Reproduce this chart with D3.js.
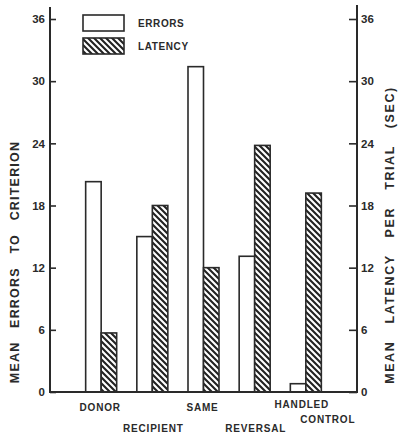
<!DOCTYPE html>
<head>
    <title>Errors and latency</title>
    <script src='https://cdn.jsdelivr.net/npm/d3@7/dist/d3.min.js'></script>
</head>
<style>
    body { margin: 0; background: #fff; }
    text { font-family: 'Liberation Sans', Arial, sans-serif; font-weight: bold; fill: #2a2a2a; }
    .bar { stroke: #2a2a2a; stroke-width: 1.6px; }
</style>
<body>
    <svg></svg>
</body>

<script>
    // values
    var groups = ['DONOR', 'RECIPIENT', 'SAME', 'REVERSAL', 'HANDLED CONTROL'];
    var errors = [20.3, 15.0, 31.4, 13.1, 0.8];
    var latency = [5.7, 18.0, 12.0, 23.8, 19.2];
    var yTicks = [0, 6, 12, 18, 24, 30, 36];
    var seriesNames = ['ERRORS', 'LATENCY'];

    var vWidth = 404;
    var vHeight = 438;
    var mLeft = 50, mRight = 357, mTop = 19, mBottom = 392;

    var svg = d3.select('svg')
        .attr('width', vWidth)
        .attr('height', vHeight);

    // hatch for latency bars
    var pat = svg.append('defs').append('pattern')
        .attr('id', 'hatch')
        .attr('patternUnits', 'userSpaceOnUse')
        .attr('width', 6).attr('height', 6);
    pat.append('rect').attr('width', 6).attr('height', 6).attr('fill', '#fff');
    pat.append('path')
        .attr('d', 'M0,0 L6,6 M-1,5 L1,7 M5,-1 L7,1')
        .attr('stroke', '#222')
        .attr('stroke-width', 2.1);

    var x = d3.scalePoint().domain(groups).range([mLeft, mRight]).padding(1);
    var sub = d3.scaleBand().domain(seriesNames).range([-15.5, 15.5]);
    var y = d3.scaleLinear().domain([0, 36]).range([mBottom, mTop]);

    var rows = groups.map(function (g, i) {
        return {group: g, values: [errors[i], latency[i]]};
    });

    // bars
    var gBars = svg.append('g');
    rows.forEach(function (r) {
        gBars.selectAll(null)
            .data(r.values)
            .enter().append('rect')
            .attr('class', 'bar')
            .attr('x', function (d, j) { return x(r.group) + sub(seriesNames[j]); })
            .attr('width', sub.bandwidth())
            .attr('y', function (d) { return y(d); })
            .attr('height', function (d) { return y(0) - y(d); })
            .attr('fill', function (d, j) { return j ? 'url(#hatch)' : '#fff'; });
    });

    // axes
    var leftAxis = d3.axisLeft(y).tickValues(yTicks).tickSizeInner(-6).tickSizeOuter(0).tickPadding(5);
    var rightAxis = d3.axisRight(y).tickValues(yTicks).tickSizeInner(-8).tickSizeOuter(0).tickPadding(4);

    var gl = svg.append('g').attr('transform', 'translate(' + mLeft + ',0)').call(leftAxis);
    var gr = svg.append('g').attr('transform', 'translate(' + mRight + ',0)').call(rightAxis);
    [gl, gr].forEach(function (g) {
        g.select('.domain').remove();
        g.selectAll('.tick line').attr('stroke', '#2a2a2a').attr('stroke-width', 1.6);
        g.selectAll('.tick text').style('font-size', '11.5px').attr('fill', '#2a2a2a');
    });

    svg.append('path')
        .attr('d', 'M' + mLeft + ',7 V' + mBottom + ' H' + mRight + ' V5')
        .attr('fill', 'none')
        .attr('stroke', '#2a2a2a')
        .attr('stroke-width', 2);

    // category labels, staggered in two rows
    rows.forEach(function (r, i) {
        var words = r.group.split(' ');
        var t = svg.append('text')
            .attr('text-anchor', 'middle')
            .style('font-size', '10px')
            .style('letter-spacing', '0.8px');
        if (words.length > 1) {
            t.append('tspan').attr('x', x(r.group) - 4).attr('y', 408).text(words[0]);
            t.append('tspan').attr('x', x(r.group) + 22).attr('y', 423).text(words[1]);
        } else {
            t.attr('x', x(r.group) + (i % 2 ? 1 : -1))
                .attr('y', i % 2 ? 432 : 411)
                .text(r.group);
        }
    });

    // axis titles
    svg.append('text')
        .attr('transform', 'translate(19,262) rotate(-90)')
        .attr('text-anchor', 'middle')
        .style('font-size', '12.5px')
        .style('letter-spacing', '1.2px')
        .style('word-spacing', '9px')
        .text('MEAN ERRORS TO CRITERION');

    svg.append('text')
        .attr('transform', 'translate(394,235) rotate(-90)')
        .attr('text-anchor', 'middle')
        .style('font-size', '12.5px')
        .style('letter-spacing', '1.6px')
        .style('word-spacing', '12px')
        .text('MEAN LATENCY PER TRIAL (SEC)');

    // legend
    var legend = svg.append('g').attr('transform', 'translate(83,15)');
    seriesNames.forEach(function (name, j) {
        legend.append('rect')
            .attr('class', 'bar')
            .attr('x', 0).attr('y', j * 23)
            .attr('width', 41).attr('height', 16)
            .attr('fill', j ? 'url(#hatch)' : '#fff');
        legend.append('text')
            .attr('x', 55).attr('y', j * 23 + 12)
            .style('font-size', '10px')
            .style('letter-spacing', '0.6px')
            .text(name);
    });
</script>
